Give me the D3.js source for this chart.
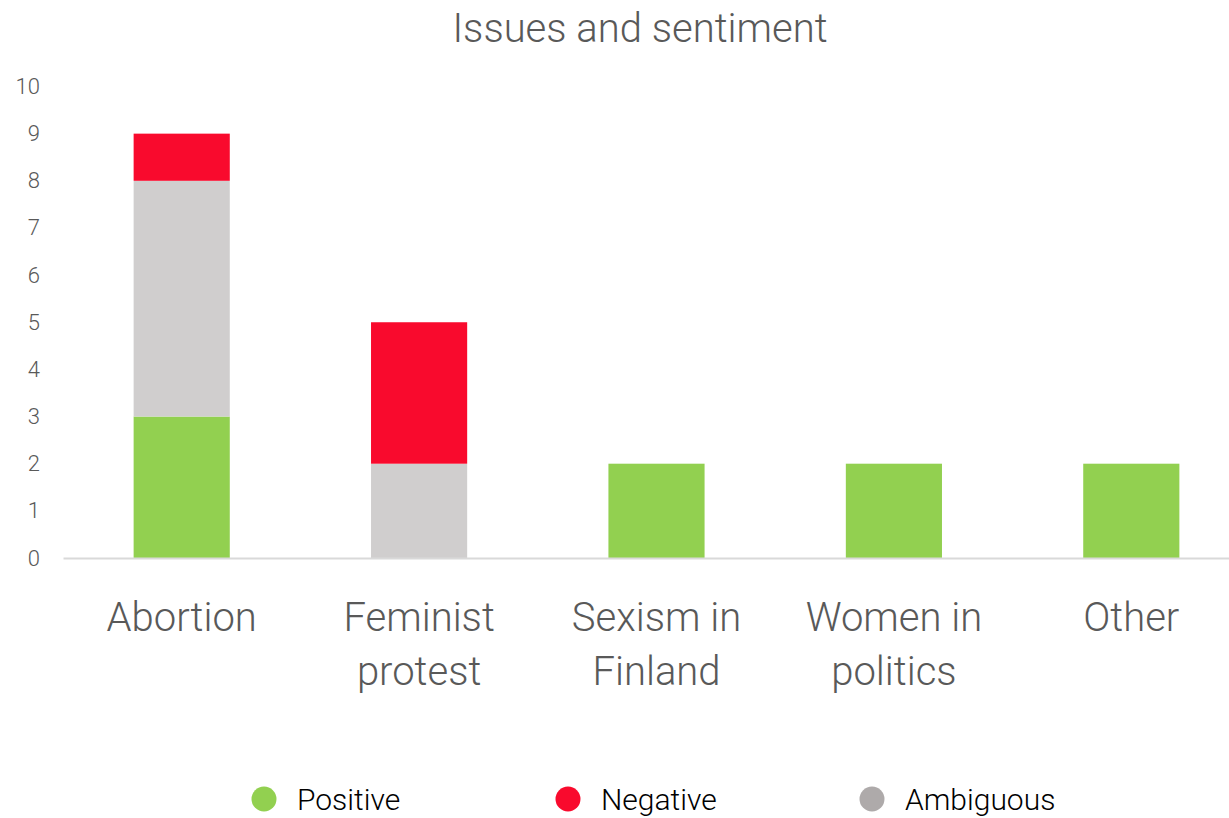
<!DOCTYPE html>
<html>
<head>
<meta charset="utf-8">
<script src="https://cdn.jsdelivr.net/npm/d3@7"></script>
<style>
  html, body { margin: 0; padding: 0; background: #fff; }
  svg { display: block; font-family: Roboto, "Liberation Sans Narrow", sans-serif; }
</style>
</head>
<body>
<svg id="chart" width="1229" height="818"></svg>
<script>
// Issues discussed and the sentiment of each mention
const categories = [["Abortion"], ["Feminist", "protest"], ["Sexism in", "Finland"], ["Women in", "politics"], ["Other"]];
const positive  = [3, 0, 2, 2, 2];
const ambiguous = [5, 2, 0, 0, 0];
const negative  = [1, 3, 0, 0, 0];
const yTicks = [0, 1, 2, 3, 4, 5, 6, 7, 8, 9, 10];

const seriesKeys   = ["Positive", "Ambiguous", "Negative"];
const legendOrder  = ["Positive", "Negative", "Ambiguous"];
const barColor     = { Positive: "#92D050", Ambiguous: "#D0CECE", Negative: "#F90A2D" };
const legendColor  = { Positive: "#92D050", Ambiguous: "#AEAAAA", Negative: "#F90A2D" };

const rows = categories.map((c, i) => ({
  key: c.join(" "),
  lines: c,
  Positive: positive[i],
  Ambiguous: ambiguous[i],
  Negative: negative[i]
}));

const svg = d3.select("#chart");

const x = d3.scaleBand()
  .domain(rows.map(d => d.key))
  .range([63, 1250])
  .paddingInner(0.595)
  .paddingOuter(0.2975);

const y = d3.scaleLinear().domain([0, 10]).range([558, 86.5]);

// stacked bars
const stacked = d3.stack().keys(seriesKeys)(rows);
svg.append("g").selectAll("g")
  .data(stacked)
  .join("g")
  .attr("fill", s => barColor[s.key])
  .selectAll("rect")
  .data(s => s)
  .join("rect")
  .attr("x", d => x(d.data.key))
  .attr("width", x.bandwidth())
  .attr("y", d => y(d[1]))
  .attr("height", d => y(d[0]) - y(d[1]));

// value axis (labels only)
const yAxis = svg.append("g")
  .attr("transform", "translate(40,0)")
  .call(d3.axisLeft(y).tickValues(yTicks).tickSize(0).tickPadding(0));
yAxis.select(".domain").remove();
yAxis.selectAll("text")
  .attr("fill", "#595959")
  .style("font-size", "22px")
  .style("font-weight", 300)
  .style("font-family", "Roboto, sans-serif");

// category axis
const xAxis = svg.append("g")
  .attr("transform", "translate(0,558)")
  .call(d3.axisBottom(x).tickSize(0).tickFormat(""));
xAxis.select(".domain").attr("stroke", "#D9D9D9").attr("stroke-width", 2);

const catLabels = svg.append("g");
rows.forEach(d => {
  const t = catLabels.append("text")
    .attr("x", x(d.key) + x.bandwidth() / 2)
    .attr("y", 631)
    .attr("text-anchor", "middle")
    .attr("fill", "#595959")
    .style("font-size", "40px")
    .style("font-weight", 300);
  d.lines.forEach((ln, j) => {
    t.append("tspan")
      .attr("x", x(d.key) + x.bandwidth() / 2)
      .attr("dy", j === 0 ? 0 : 54)
      .text(ln);
  });
});

// title
svg.append("text")
  .attr("x", 640)
  .attr("y", 42)
  .attr("text-anchor", "middle")
  .attr("fill", "#595959")
  .style("font-size", "40px")
  .style("font-weight", 300)
  .text("Issues and sentiment");

// legend
const legendX = d3.scalePoint().domain(legendOrder).range([264, 872]);
const lg = svg.append("g").selectAll("g")
  .data(legendOrder)
  .join("g")
  .attr("transform", k => `translate(${legendX(k)},799)`);
lg.append("circle").attr("r", 12.5).attr("fill", k => legendColor[k]);
lg.append("text")
  .attr("x", 33)
  .attr("y", 11)
  .attr("fill", "#000")
  .style("font-size", "30px")
  .style("font-weight", 300)
  .text(k => k);
</script>
</body>
</html>
